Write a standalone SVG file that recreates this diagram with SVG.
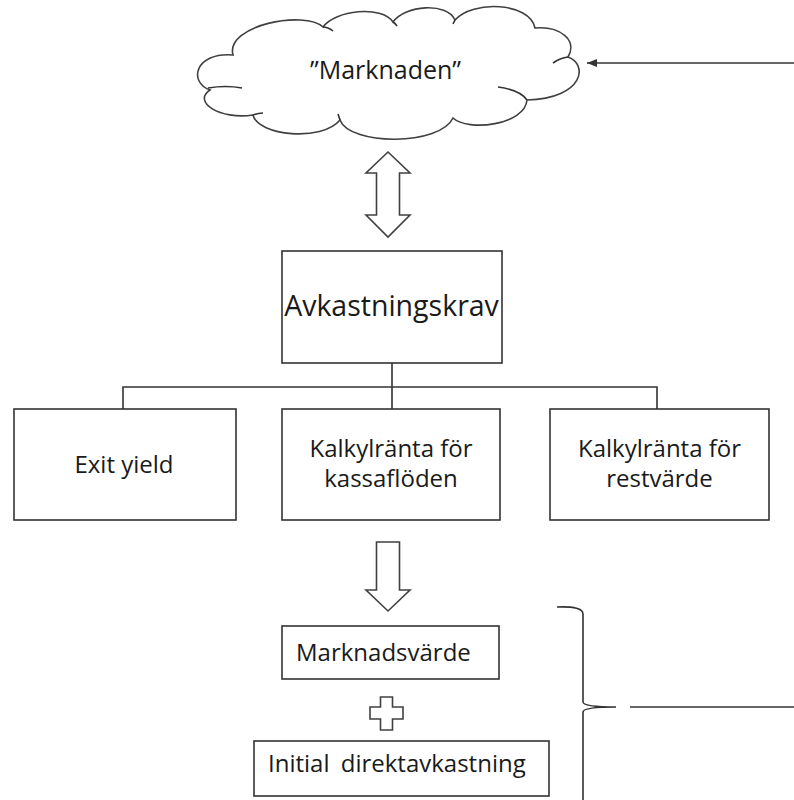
<svg xmlns="http://www.w3.org/2000/svg" width="794" height="800" viewBox="0 0 794 800">
  <style>
    .box { fill: #ffffff; stroke: #333333; stroke-width: 1.6; }
    .ln { fill: none; stroke: #333333; stroke-width: 1.6; }
    .shape { fill: #ffffff; stroke: #404040; stroke-width: 1.6; stroke-linejoin: miter; }
    .t { font-family: "Open Sans", "Noto Sans", "DejaVu Sans", sans-serif; fill: #1a1a1a; }
    .t24 { font-size: 24px; text-anchor: middle; }
  </style>
  <defs>
    <marker id="ah" viewBox="0 0 10 8" refX="10" refY="4" markerWidth="10" markerHeight="8" markerUnits="userSpaceOnUse" orient="auto">
      <path d="M0,0 L10,4 L0,8 Z" fill="#333333"/>
    </marker>
  </defs>
  <rect width="794" height="800" fill="#ffffff"/>

  <g id="cloud">
    <path class="shape" d="M233,55 C225,25 305,10 323,27 C335,10 382,5 393,22 C405,5 447,2 455,20 C472,0 530,2 535,28 C560,26 578,40 568,57 C588,64 585,98 527,100 C525,125 468,132 453,118 C440,146 350,146 340,120 C322,142 258,136 253,115 C220,120 192,102 210,90 C188,82 195,52 233,55 Z"/>
    <path class="ln" d="M208,88 Q226,85 242,88 M323,27 Q328,27 333,31 M393,22 Q395,23 397,26 M455,20 Q454,22 453,24 M553,63 Q560,58 568,57 M498,87 Q520,90 527,100 M340,120 Q339,117 338,114 M253,115 Q258,113 263,113"/>
    <text class="t" x="385.5" y="79" font-size="25" text-anchor="middle">”Marknaden”</text>
  </g>

  <g id="connectors">
    <line class="ln" x1="794" y1="63" x2="587" y2="63" marker-end="url(#ah)"/>
    <polygon class="shape" points="388,152 410,173 399.5,173 399.5,215 410,215 388,237 366,215 376.5,215 376.5,173 366,173"/>
    <path class="ln" d="M392,363 V387 M123,409 V387 H657 V409 M392,387 V409"/>
    <polygon class="shape" points="376.5,542 399.5,542 399.5,590 410,590 388,611 366,590 376.5,590"/>
    <polygon class="shape" points="380.5,697 392.5,697 392.5,707 403,707 403,719 392.5,719 392.5,730 380.5,730 380.5,719 370,719 370,707 380.5,707"/>
    <path class="ln" d="M557,607 Q583,606 583,614 V702 Q583,707 616,707 Q583,707 583,712 V800"/>
    <line class="ln" x1="630" y1="707" x2="794" y2="707"/>
  </g>

  <g id="avkastningskrav">
    <rect class="box" x="282" y="251" width="220" height="112"/>
    <text class="t" x="391.5" y="316" font-size="28.5" text-anchor="middle">Avkastningskrav</text>
  </g>

  <g id="exit-yield">
    <rect class="box" x="14" y="409" width="222" height="111"/>
    <text class="t t24" x="124" y="473">Exit yield</text>
  </g>

  <g id="kalkylranta-kassafloden">
    <rect class="box" x="282" y="409" width="218" height="111"/>
    <text class="t t24" x="391" y="457">Kalkylränta för</text>
    <text class="t t24" x="391" y="487">kassaflöden</text>
  </g>

  <g id="kalkylranta-restvarde">
    <rect class="box" x="550" y="409" width="219" height="111"/>
    <text class="t t24" x="659.5" y="457">Kalkylränta för</text>
    <text class="t t24" x="659.5" y="487">restvärde</text>
  </g>

  <g id="marknadsvarde">
    <rect class="box" x="282" y="626" width="217" height="53"/>
    <text class="t" x="296" y="661" font-size="24">Marknadsvärde</text>
  </g>

  <g id="initial-direktavkastning">
    <rect class="box" x="254" y="741" width="295" height="55"/>
    <text class="t" x="268" y="772" font-size="24" word-spacing="5">Initial direktavkastning</text>
  </g>
</svg>
